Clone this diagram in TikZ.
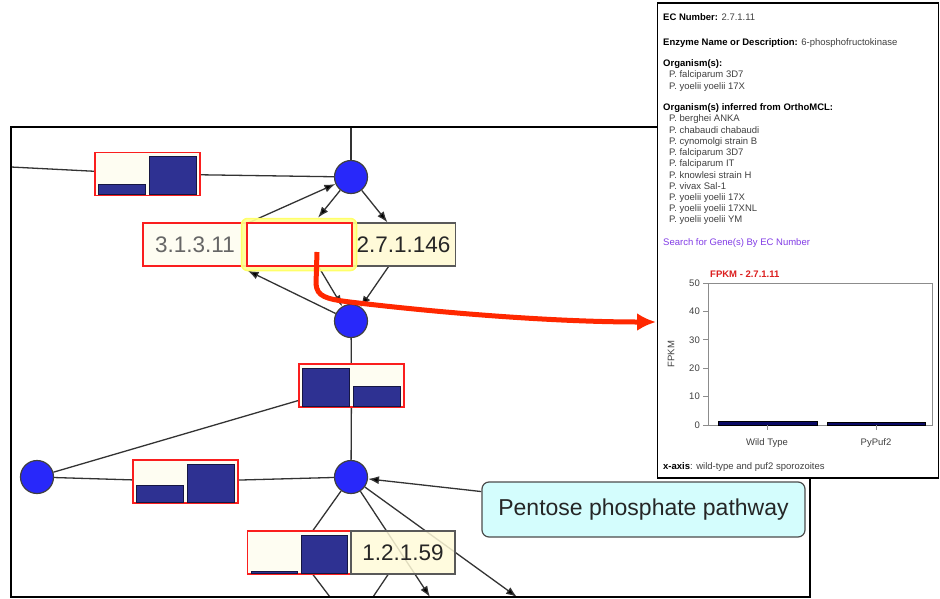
\documentclass[tikz,border=0pt]{standalone}
\usepackage{fontspec}
\setmainfont{Liberation Sans}
\usepackage{xcolor}
\usepackage{tikz}
\usetikzlibrary{arrows,arrows.meta,backgrounds}
\newcommand{\hbars}[3]{%
  \filldraw[fill=barblue,draw=barblue!45!black,line width=0.8pt] ([xshift=4pt,yshift=1.5pt]#1.south west) rectangle ([xshift=-2pt,yshift=#2pt]#1.south);
  \filldraw[fill=barblue,draw=barblue!45!black,line width=0.8pt] ([xshift=2pt,yshift=1.5pt]#1.south) rectangle ([xshift=-4pt,yshift=#3pt]#1.south east);}
\definecolor{cpdblue}{RGB}{40, 40, 250}
\definecolor{barblue}{RGB}{46, 49, 146}
\definecolor{heatred}{RGB}{250, 30, 30}
\definecolor{cream}{RGB}{254, 253, 242}
\definecolor{ecyellow}{RGB}{255, 250, 216}
\definecolor{pentcyan}{RGB}{212, 253, 253}
\definecolor{hilite}{RGB}{255, 255, 150}
\definecolor{pointer}{RGB}{255, 40, 0}
\definecolor{linkpurple}{RGB}{130, 60, 230}
\definecolor{titlered}{RGB}{220, 30, 30}
\definecolor{fpkmbar}{RGB}{10, 10, 100}

\begin{document}
\begin{tikzpicture}[x=1pt,y=-1pt,
  cpd/.style={circle,draw=black!75,line width=1.2pt,fill=cpdblue,minimum size=33pt,inner sep=0pt},
  heat/.style={draw=heatred,line width=1.2pt,fill=cream,minimum width=105pt,minimum height=43pt,inner sep=0pt},
  ecbox/.style={draw=black!65,line width=1.2pt,fill=ecyellow,minimum width=104pt,minimum height=43pt,inner sep=0pt},
  ecfont/.style={font=\fontsize{22.5}{27}\selectfont},
  conn/.style={draw=black!80,line width=1.3pt},
  arr/.style={-{Latex[length=11pt,width=8pt]}},
  ptxt/.style={anchor=west,inner sep=0pt,font=\fontsize{9.5}{11}\selectfont,text=black!75},
  pointer/.style={draw=pointer,line width=5pt,-{Latex[length=19pt,width=18pt]}}]
  \useasboundingbox (0,0) rectangle (940,598);
  \draw[line width=1.3pt] (11,127) rectangle (810,597);

  \coordinate (top) at (351,127);
  \coordinate (lf) at (11,167);
  \coordinate (b1) at (430,597);
  \coordinate (b2) at (517,597);
  \coordinate (b3) at (330,597);
  \coordinate (b4) at (373,597);

  \node[cpd] (c1) at (351,177) {};
  \node[cpd] (c2) at (351,321) {};
  \node[cpd] (c3) at (37,477) {};
  \node[cpd] (c4) at (351,477) {};

  \node[heat] (h1) at (147.5,174) {};
  \hbars{h1}{12}{40}
  \node[heat,ecfont,minimum width=104pt,text=black!60] (ec1) at (195,244.5) {3.1.3.11};
  \node[ecbox,ecfont,text=black!85] (ec2) at (403.5,244.5) {2.7.1.146};
  \node[fill=hilite,fill opacity=0.9,draw=hilite!70!yellow,line width=1.5pt,rounded corners=6pt,minimum width=115pt,minimum height=52pt] (glow) at (299,244.5) {};
  \node[heat,fill=white] (mid) at (299.5,244.5) {};
  \node[heat] (h2) at (351.5,385.5) {};
  \hbars{h2}{39}{21}
  \node[heat] (h3) at (185.5,481.5) {};
  \hbars{h3}{18}{39}
  \node[heat,minimum width=103pt] (h4) at (299,552.5) {};
  \hbars{h4}{3}{39}
  \node[ecbox,ecfont,fill opacity=0.85,text opacity=1,text=black!85] (ec4) at (403,552.5) {1.2.1.59};
  \node[draw=black!70,line width=1.2pt,fill=pentcyan,rounded corners=7pt,minimum width=323pt,minimum height=55pt,font=\fontsize{23}{27}\selectfont,text=black!85] (pent) at (643.5,509.5) {Pentose phosphate pathway};

  \begin{scope}[on background layer]
  \path[conn]
    (c1) edge (top)
    (lf) edge (h1)
    (h1) edge (c1)
    (c1) edge[arr] ([xshift=19pt]glow.north)
    (c1) edge[arr] ([xshift=-16pt]ec2.north)
    ([xshift=3pt]mid.north west) edge[arr] (c1)
    (c2) edge[arr] ([yshift=-4pt]ec1.south east)
    ([xshift=19pt]mid.south) edge[arr] (c2)
    ([xshift=-15pt]ec2.south) edge[arr] (c2)
    (c2) edge (h2)
    (h2) edge (c4)
    (c3) edge (h3)
    (h3) edge (c4)
    (c3) edge ([yshift=-15pt]h2.west)
    (pent) edge[arr] (c4)
    (c4) edge ([xshift=14pt]h4.north)
    (c4) edge[arr] (b1)
    (c4) edge[arr] (b2)
    ([xshift=14pt]h4.south) edge (b3)
    ([xshift=-15pt]ec4.south) edge (b4);
  \end{scope}

  \node[draw=black,line width=1.6pt,fill=white,minimum width=281pt,minimum height=475pt,inner sep=0pt] (popup) at (798,240.5) {};
  \node[ptxt] (ecnum) at (663,17) {\textcolor{black}{\textbf{EC Number:}} 2.7.1.11};
  \node[ptxt] (ename) at (663,43) {\textcolor{black}{\textbf{Enzyme Name or Description:}} 6-phosphofructokinase};
  \node[ptxt,text=black] (orgs) at (663,64) {\textbf{Organism(s):}};
  \node[ptxt] (orga) at (669,75.5) {P. falciparum 3D7};
  \node[ptxt] (orgb) at (669,87) {P. yoelii yoelii 17X};
  \node[ptxt,text=black] (ortho) at (663,108) {\textbf{Organism(s) inferred from OrthoMCL:}};
  \foreach \o [count=\i] in {P. berghei ANKA, P. chabaudi chabaudi, P. cynomolgi strain B,
      P. falciparum 3D7, P. falciparum IT, P. knowlesi strain H, P. vivax Sal-1,
      P. yoelii yoelii 17X, P. yoelii yoelii 17XNL, P. yoelii yoelii YM}
    \node[ptxt] (inf\i) at (669,{108+11.2*\i}) {\o};
  \node[ptxt,text=linkpurple] (search) at (663,243) {Search for Gene(s) By EC Number};

  \node[ptxt,font=\fontsize{9.5}{11}\selectfont\bfseries,text=titlered] (ctitle) at (710,274) {FPKM - 2.7.1.11};
  \draw[black!45,line width=0.9pt] (708,283) rectangle (932,425);
  \foreach \v [count=\k from 0] in {0,10,...,50} {
    \draw[black!45,line width=0.9pt] (703,{425-28.4*\k}) -- (708,{425-28.4*\k});
    \node[anchor=east,inner sep=0pt,font=\fontsize{9.5}{11}\selectfont,text=black!75] (tk\k) at (700,{425-28.4*\k}) {\v};
  }
  \node[rotate=90,inner sep=0pt,font=\fontsize{9.5}{11}\selectfont,text=black!75] (ylab) at (671,354) {FPKM};
  \filldraw[fill=fpkmbar,draw=black,line width=0.6pt] (718,421.5) rectangle (817,425);
  \filldraw[fill=fpkmbar,draw=black,line width=0.6pt] (827,422.5) rectangle (925,425);
  \draw[black!45,line width=0.9pt] (767,425) -- (767,430) (876,425) -- (876,430);
  \node[inner sep=0pt,font=\fontsize{9.5}{11}\selectfont,text=black!75] (wt) at (767,443) {Wild Type};
  \node[inner sep=0pt,font=\fontsize{9.5}{11}\selectfont,text=black!75] (puf) at (876,443) {PyPuf2};
  \node[ptxt,text=black] (xax) at (663,467) {\textbf{x-axis}\textcolor{black!75}{: wild-type and puf2 sporozoites}};

  \coordinate (ptr) at (317,252);
  \coordinate (pin) at (656,322);
  \draw[pointer] (ptr) -- (316,284) .. controls (317,296) and (325,299) .. (350,302) .. controls (450,314) and (560,322) .. (pin);
\end{tikzpicture}
\end{document}
